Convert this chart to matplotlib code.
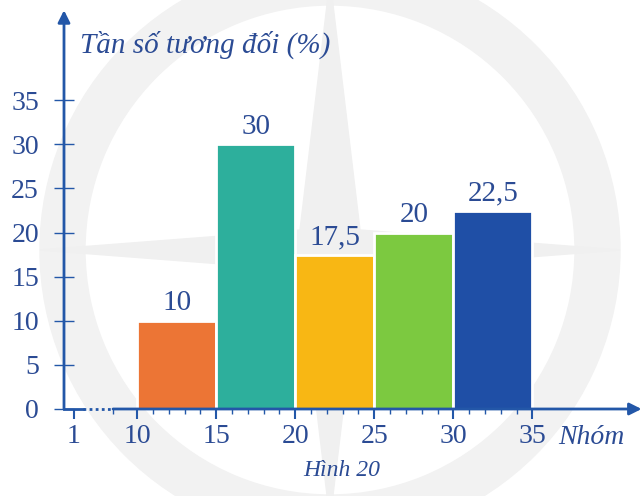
import matplotlib.pyplot as plt
from matplotlib.patches import Wedge, Polygon

# group edges and relative frequencies (%)
edges = [10, 15, 20, 25, 30, 35]
freq = [10, 30, 17.5, 20, 22.5]
freq_labels = ["10", "30", "17,5", "20", "22,5"]
colors = ["#EC7535", "#2DAF9C", "#F8B714", "#7CC940", "#1F4FA6"]

x_ticks = [6, 10, 15, 20, 25, 30, 35]
x_tick_labels = ["1", "10", "15", "20", "25", "30", "35"]
y_ticks = [0, 5, 10, 15, 20, 25, 30, 35]

plt.rcParams['font.family'] = ['Liberation Serif', 'DejaVu Serif']
axis_col = "#2357A8"
text_col = "#2B4B94"

fig = plt.figure(figsize=(6.44, 4.96), dpi=100)

# faint watermark in the background
bg = fig.add_axes([0, 0, 1, 1], zorder=0)
bg.set_xlim(0, 644)
bg.set_ylim(496, 0)
bg.axis("off")
bg.add_patch(Wedge((330, 250), 290, 0, 360, width=45, color="#F2F2F2"))
bg.add_patch(Polygon([(330, -20), (360, 230), (620, 250), (360, 270),
                      (330, 520), (300, 270), (40, 250), (300, 230)],
                     closed=True, color="#F0F0F0"))

ax = fig.add_axes([64 / 644, 87 / 496, 576 / 644, 397 / 496], zorder=1)
ax.patch.set_alpha(0)
ax.set_xlim(5.38, 41.8)
ax.set_ylim(0, 45)

lefts = edges[:-1]
widths = [edges[i + 1] - edges[i] for i in range(len(freq))]
ax.bar(lefts, freq, width=widths, align="edge", color=colors,
       edgecolor="white", linewidth=2, zorder=2)
for l, w, v, s in zip(lefts, widths, freq, freq_labels):
    ax.text(l + w / 2, v + 0.5, s, ha="center", va="bottom",
            fontsize=21, color=text_col, zorder=3)

for sp in ax.spines.values():
    sp.set_visible(False)

# axes drawn by hand: broken x axis between 1 and 10
ax.plot([5.38, 6.58], [0, 0], color=axis_col, lw=2, clip_on=False, zorder=4)
ax.plot([6.58, 8.48], [0, 0], color=axis_col, lw=2, ls=(0, (1, 1.2)),
        clip_on=False, zorder=4)
ax.annotate("", xy=(41.9, 0), xytext=(8.48, 0),
            arrowprops=dict(arrowstyle="-|>", color=axis_col, lw=2,
                            mutation_scale=18, shrinkA=0, shrinkB=0),
            annotation_clip=False, zorder=4)
ax.annotate("", xy=(5.38, 45.2), xytext=(5.38, 0),
            arrowprops=dict(arrowstyle="-|>", color=axis_col, lw=2,
                            mutation_scale=18, shrinkA=0, shrinkB=0),
            annotation_clip=False, zorder=4)

ax.set_xticks(x_ticks)
ax.set_xticklabels(x_tick_labels)
ax.set_xticks([8.5] + list(range(11, 35)), minor=True)
ax.set_yticks(y_ticks)
ax.tick_params(axis="x", which="major", direction="out", length=7, width=1.5,
               color=axis_col, labelcolor=text_col, labelsize=20, pad=4)
ax.tick_params(axis="x", which="minor", direction="out", length=3.5, width=1,
               color=axis_col)
ax.tick_params(axis="y", which="major", direction="inout", length=14, width=1,
               color=axis_col, labelcolor=text_col, labelsize=20, pad=11)

fig.text(80 / 644, 1 - 45 / 496, "Tần số tương đối (%)", fontsize=21,
         style="italic", color=text_col, va="center", ha="left")
fig.text(558 / 644, 1 - 437 / 496, "Nhóm", fontsize=20, style="italic",
         color=text_col, va="center", ha="left")
fig.text(342 / 644, 1 - 470 / 496, "Hình 20", fontsize=17, style="italic",
         color=text_col, va="center", ha="center")

fig.savefig("out.png", dpi=100)
